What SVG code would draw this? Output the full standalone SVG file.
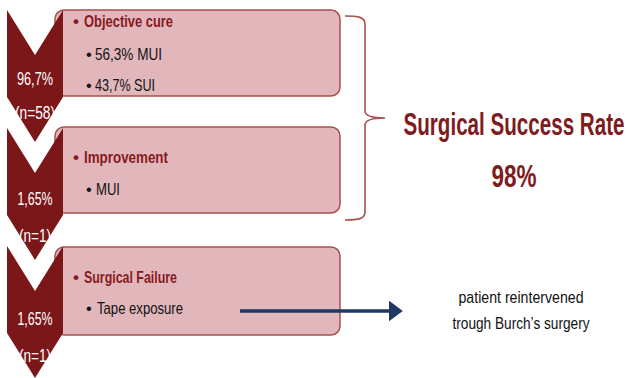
<svg xmlns="http://www.w3.org/2000/svg" width="630" height="378" viewBox="0 0 630 378">
<defs>
<style>
.chev{fill:#7b1619}
.box{fill:#e2b7bc;stroke:#a9504f;stroke-width:1.5}
.ct{font-family:"Liberation Sans",Arial,sans-serif;font-size:19px;fill:#ffffff;text-anchor:middle}
.hd{font-family:"Liberation Sans",Arial,sans-serif;font-size:17px;font-weight:bold;fill:#861b1e}
.it{font-family:"Liberation Sans",Arial,sans-serif;font-size:16.5px;fill:#111111}
.note{font-family:"Liberation Sans",Arial,sans-serif;font-size:17px;fill:#111111;text-anchor:middle}
.big{font-family:"Liberation Sans",Arial,sans-serif;font-weight:bold;fill:#7f1a1d;text-anchor:middle}
</style>
<marker id="ah" markerWidth="4" markerHeight="6" refX="3.2" refY="3" orient="auto" markerUnits="strokeWidth">
<path d="M0,0 L4,3 L0,6 Z" fill="#1f3864"/>
</marker>
</defs>
<rect width="630" height="378" fill="#ffffff"/>

<g id="node1">
<rect class="box" x="55" y="10" width="285" height="86" rx="9"/>
<path class="chev" d="M7,10 L35,55 L63,10 L63,97 L35,142 L7,97 Z"/>
<text class="ct" x="35" y="85" textLength="36" lengthAdjust="spacingAndGlyphs">96,7%</text>
<text class="ct" x="35" y="119" textLength="40" lengthAdjust="spacingAndGlyphs">(n=58)</text>
<text class="hd" x="73" y="27">•</text>
<text class="hd" x="84" y="27" textLength="89" lengthAdjust="spacingAndGlyphs">Objective cure</text>
<text class="it" x="86" y="60">•</text>
<text class="it" x="95" y="60" textLength="67" lengthAdjust="spacingAndGlyphs">56,3% MUI</text>
<text class="it" x="86" y="91">•</text>
<text class="it" x="95" y="91" textLength="60" lengthAdjust="spacingAndGlyphs">43,7% SUI</text>
</g>

<g id="node2">
<rect class="box" x="55" y="127" width="285" height="86" rx="9"/>
<path class="chev" d="M7,128 L35,173 L63,128 L63,215 L35,260 L7,215 Z"/>
<text class="ct" x="35" y="205" textLength="35" lengthAdjust="spacingAndGlyphs">1,65%</text>
<text class="ct" x="35" y="242" textLength="32" lengthAdjust="spacingAndGlyphs">(n=1)</text>
<text class="hd" x="73" y="163">•</text>
<text class="hd" x="84" y="163" textLength="84" lengthAdjust="spacingAndGlyphs">Improvement</text>
<text class="it" x="86" y="195">•</text>
<text class="it" x="96" y="195" textLength="24" lengthAdjust="spacingAndGlyphs">MUI</text>
</g>

<g id="node3">
<rect class="box" x="55" y="247" width="285" height="88" rx="9"/>
<path class="chev" d="M7,246 L35,291 L63,246 L63,333 L35,378 L7,333 Z"/>
<text class="ct" x="35" y="325" textLength="35" lengthAdjust="spacingAndGlyphs">1,65%</text>
<text class="ct" x="35" y="362" textLength="32" lengthAdjust="spacingAndGlyphs">(n=1)</text>
<text class="hd" x="73" y="283">•</text>
<text class="hd" x="84" y="283" textLength="93" lengthAdjust="spacingAndGlyphs">Surgical Failure</text>
<text class="it" x="86" y="314">•</text>
<text class="it" x="97" y="314" textLength="86" lengthAdjust="spacingAndGlyphs">Tape exposure</text>
</g>

<g id="brace">
<path d="M345,16 C358,16 365,17 365,24 L365,111 C365,116 372,118 385,118 C372,118 365,120 365,125 L365,212 C365,219 358,220 345,220" fill="none" stroke="#a9504f" stroke-width="1.6"/>
</g>

<g id="result">
<g transform="scale(0.65,1)">
<text class="big" x="790.8" y="135" font-size="31" textLength="340" lengthAdjust="spacingAndGlyphs">Surgical Success Rate</text>
</g>
<text class="big" x="514" y="187" font-size="31" textLength="45" lengthAdjust="spacingAndGlyphs">98%</text>
</g>

<g id="outcome">
<text class="note" x="521" y="303" textLength="125" lengthAdjust="spacingAndGlyphs">patient reintervened</text>
<text class="note" x="521" y="329" textLength="137" lengthAdjust="spacingAndGlyphs">trough Burch’s surgery</text>
</g>

<g id="connectors">
<line x1="240" y1="311" x2="400" y2="311" stroke="#1f3864" stroke-width="3.5" marker-end="url(#ah)"/>
</g>
</svg>
